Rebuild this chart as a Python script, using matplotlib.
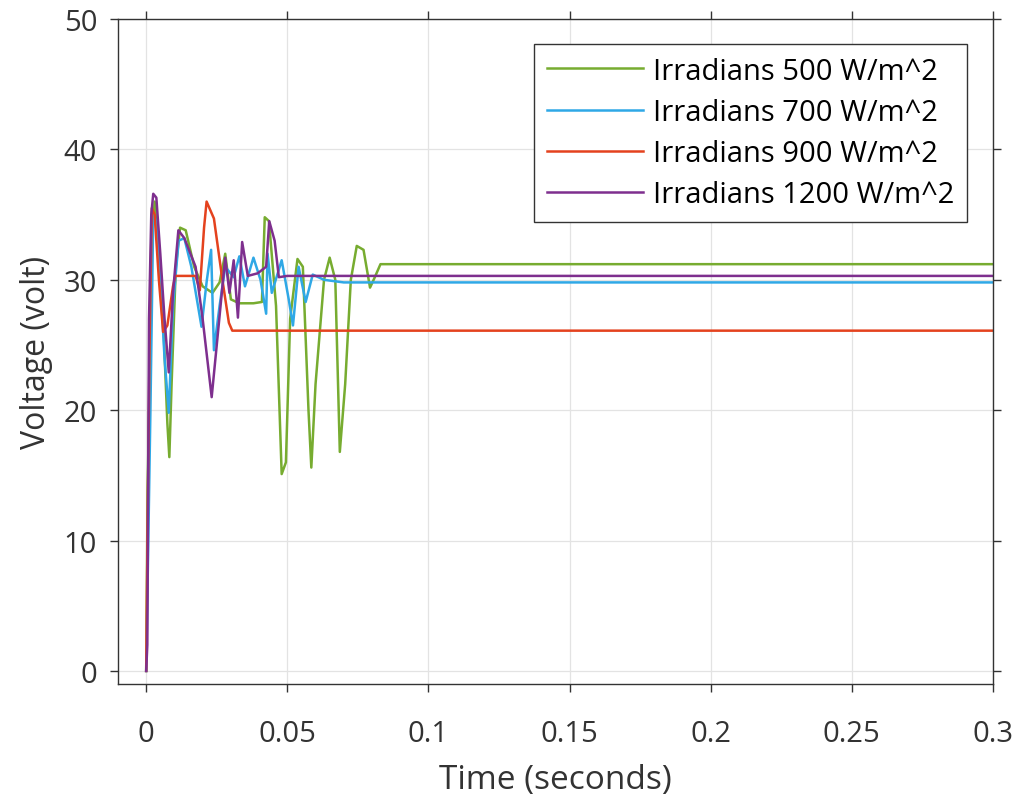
import matplotlib.pyplot as plt

plt.rcParams['font.family'] = ['Open Sans', 'DejaVu Sans']

# time (s) / voltage (V) pairs
t_500 = [0, 0.0005, 0.0012, 0.002, 0.003, 0.004, 0.006, 0.0075, 0.0082, 0.009, 0.0105, 0.012,
         0.014, 0.017, 0.02, 0.0235, 0.026, 0.028, 0.03, 0.033, 0.038, 0.041, 0.042, 0.0435,
         0.046, 0.048, 0.0495, 0.051, 0.0536, 0.0555, 0.0575, 0.0585, 0.06, 0.063, 0.065,
         0.067, 0.0686, 0.0705, 0.0725, 0.0746, 0.077, 0.0793, 0.081, 0.083, 0.3]
v_500 = [0, 14, 22, 33, 36, 33, 27, 19, 16.4, 22, 31, 34,
         33.8, 31, 29.5, 29, 29.8, 32, 28.5, 28.2, 28.2, 28.3, 34.8, 34.5,
         28, 15.1, 16, 27, 31.6, 31, 20, 15.6, 22, 30, 31.7,
         30, 16.8, 22, 30, 32.6, 32.3, 29.4, 30.2, 31.2, 31.2]

t_700 = [0, 0.0006, 0.0015, 0.0025, 0.0035, 0.005, 0.0065, 0.008, 0.0095, 0.0115, 0.0135,
         0.016, 0.0196, 0.0215, 0.023, 0.024, 0.026, 0.028, 0.031, 0.033, 0.035, 0.038,
         0.0405, 0.0425, 0.043, 0.0445, 0.048, 0.0505, 0.052, 0.054, 0.0565, 0.059, 0.063,
         0.07, 0.3]
v_700 = [0, 8, 20, 35, 34.5, 30, 24, 19.8, 28, 33, 33.2,
         31, 26.4, 30, 32.3, 24.6, 28, 31, 30.2, 31.8, 29.5, 31.7,
         30, 27.4, 32, 29, 31.5, 28.5, 26.5, 31, 28.3, 30.4, 30,
         29.8, 29.8]

t_900 = [0, 0.0005, 0.0012, 0.002, 0.003, 0.0045, 0.006, 0.0075, 0.0095, 0.0103, 0.0175,
         0.019, 0.0205, 0.0214, 0.024, 0.027, 0.0293, 0.0305, 0.3]
v_900 = [0, 11, 25, 35.5, 35, 30, 26, 26.5, 29.5, 30.3, 30.3,
         29.2, 34, 36, 34.7, 30, 26.7, 26.1, 26.1]

t_1200 = [0, 0.0004, 0.001, 0.0018, 0.0025, 0.0036, 0.005, 0.0065, 0.008, 0.0095, 0.0114,
          0.0135, 0.0175, 0.02, 0.0232, 0.025, 0.028, 0.0295, 0.031, 0.0325, 0.034, 0.036,
          0.0395, 0.0425, 0.0436, 0.0455, 0.047, 0.05, 0.3]
v_1200 = [0, 2, 27, 35, 36.6, 36.3, 32, 27, 22.9, 29, 33.8,
          33.2, 31, 27, 21, 25, 31.7, 29, 31.5, 27.1, 32.9, 30.3,
          30.5, 31, 34.5, 33, 30.2, 30.3, 30.3]

labels = ['Irradians 500 W/m^2', 'Irradians 700 W/m^2',
          'Irradians 900 W/m^2', 'Irradians 1200 W/m^2']
colors = ['#77AC30', '#2FA8E6', '#E4421E', '#7E2F8E']

fig = plt.figure(figsize=(10.24, 8.03), dpi=100)
ax = fig.add_axes([0.1152, 0.147, 0.8545, 0.828])

series = [(t_500, v_500), (t_700, v_700), (t_900, v_900), (t_1200, v_1200)]
for (t, v), lab, c in zip(series, labels, colors):
    ax.plot(t, v, color=c, lw=1.8, label=lab)

ax.set_xlim(-0.01, 0.3)
ax.set_ylim(-1, 50)
ax.set_xticks([0, 0.05, 0.1, 0.15, 0.2, 0.25, 0.3])
ax.set_xticklabels(['0', '0.05', '0.1', '0.15', '0.2', '0.25', '0.3'])
ax.set_yticks([0, 10, 20, 30, 40, 50])
ax.grid(True, color='#E3E3E3', lw=0.9)
ax.tick_params(direction='out', top=True, right=True, labelsize=21, colors='#333333',
               length=6, width=1.0)
ax.tick_params(axis='x', pad=19)
ax.tick_params(axis='y', pad=9)
for s in ax.spines.values():
    s.set_color('#333333')
    s.set_linewidth(1.0)

ax.set_xlabel('Time (seconds)', fontsize=24, color='#333333', labelpad=11)
ax.set_ylabel('Voltage (volt)', fontsize=23, color='#333333', labelpad=8)

leg = ax.legend(loc='upper right', bbox_to_anchor=(0.970, 0.962), borderaxespad=0,
                fontsize=21, fancybox=False, edgecolor='#333333', framealpha=1,
                handlelength=3.3, handletextpad=0.35, labelspacing=0.42,
                borderpad=0.42)
leg.get_frame().set_linewidth(1.0)

fig.savefig('out.png', dpi=100)
